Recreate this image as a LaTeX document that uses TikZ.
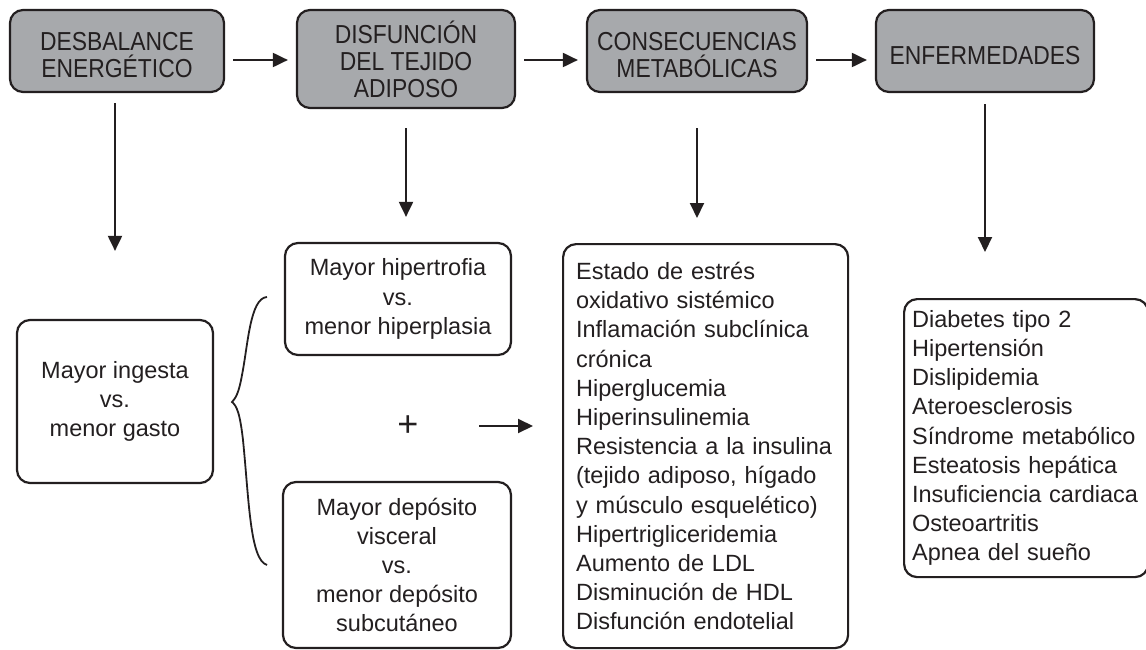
\documentclass[tikz,border=0pt]{standalone}
\usepackage{fontspec}
\setmainfont{Liberation Sans}
\newfontfamily\capsfont[FakeStretch=0.88]{Liberation Sans}
\usetikzlibrary{arrows.meta}
\definecolor{boxgray}{HTML}{A7A9AC}
\definecolor{ink}{HTML}{231F20}
\newcommand\tstrut{\rule{0pt}{27pt}}
\begin{document}
\begin{tikzpicture}[x=1pt,y=-1pt,
  topbox/.style={draw=ink, fill=boxgray, line width=2.2pt, rounded corners=13pt,
    align=center, font=\capsfont\fontsize{26}{27}\selectfont, text=ink, inner sep=0pt},
  lowbox/.style={draw=ink, fill=white, line width=2.2pt, rounded corners=13pt,
    align=center, font=\fontsize{23.5}{29.2}\selectfont, text=ink, inner sep=0pt},
  listbox/.style={draw=ink, fill=white, line width=2.2pt, rounded corners=13pt,
    align=left, font=\fontsize{23.5}{29.2}\selectfont, text=ink, inner ysep=0pt},
  arr/.style={draw=ink, line width=2pt, -{Triangle[length=15pt,width=14pt]}},
  bracestyle/.style={draw=ink, line width=1.8pt}]
\useasboundingbox (0,0) rectangle (1146,650);

% top row
\node[topbox, minimum width=214pt, minimum height=82pt] (b1) at (117,51) {\tstrut DESBALANCE\\ENERGÉTICO};
\node[topbox, minimum width=218pt, minimum height=98pt] (b2) at (406,59) {DISFUNCIÓN\\DEL TEJIDO\\ADIPOSO};
\node[topbox, minimum width=220pt, minimum height=82pt] (b3) at (697,51) {\tstrut CONSECUENCIAS\\METABÓLICAS};
\node[topbox, minimum width=218pt, minimum height=82pt] (b4) at (985,51) {\tstrut ENFERMEDADES};
\coordinate (row) at (0,60);

% lower boxes
\node[lowbox, minimum width=196pt, minimum height=163pt] (l1) at (115,401.5) {Mayor ingesta\\vs.\\menor gasto};
\node[lowbox, minimum width=226pt, minimum height=112pt] (l2a) at (398,299) {Mayor hipertrofia\\vs.\\menor hiperplasia};
\node[lowbox, minimum width=228pt, minimum height=166pt] (l2b) at (397,565) {Mayor depósito\\visceral\\vs.\\menor depósito\\subcutáneo};

\node[listbox, anchor=north west, inner xsep=13pt, text width=259pt, minimum height=404pt] (mid) at (562,243)
 {Estado de estrés\\oxidativo sistémico\\Inflamación subclínica\\crónica\\Hiperglucemia\\Hiperinsulinemia\\Resistencia a la insulina\\(tejido adiposo, hígado\\y músculo esquelético)\\Hipertrigliceridemia\\Aumento de LDL\\Disminución de HDL\\Disfunción endotelial};

\node[listbox, anchor=north west, inner xsep=8pt, text width=228pt, minimum height=278pt] (dis) at (903,298)
 {Diabetes tipo 2\\Hipertensión\\Dislipidemia\\Ateroesclerosis\\Síndrome metabólico\\Esteatosis hepática\\Insuficiencia cardiaca\\Osteoartritis\\Apnea del sueño};

\node[font=\fontsize{36}{36}\selectfont, text=ink, inner sep=0pt] (plus) at (408,426) {+};

% horizontal arrows
\draw[arr, shorten <=8pt, shorten >=8pt] (b1.east |- row) -- (b2.west |- row);
\draw[arr, shorten <=8pt, shorten >=8pt] (b2.east |- row) -- (b3.west |- row);
\draw[arr, shorten <=8pt, shorten >=8pt] (b3.east |- row) -- (b4.west |- row);

% vertical arrows
\draw[arr, shorten <=10pt, shorten >=68pt] (b1.south -| l1.north) -- (l1.north);
\draw[arr, shorten <=19pt, shorten >=25pt] (b2.south) -- (b2.south |- l2a.north);
\draw[arr, shorten <=35pt, shorten >=25pt] (b3.south) -- (b3.south |- mid.north);
\draw[arr, shorten <=11pt, shorten >=46pt] (b4.south) -- (b4.south |- dis.north);

% plus arrow
\draw[arr, shorten <=71pt, shorten >=29pt] (plus.center) -- (plus.center -| mid.west);

% brace
\draw[bracestyle] (267,297) .. controls (250,298) and (248,345) .. (242,375)
  .. controls (239,392) and (236,398) .. (232,402)
  .. controls (237,406) and (240,414) .. (243,440)
  .. controls (249,500) and (250,560) .. (267,565);
\end{tikzpicture}
\end{document}
